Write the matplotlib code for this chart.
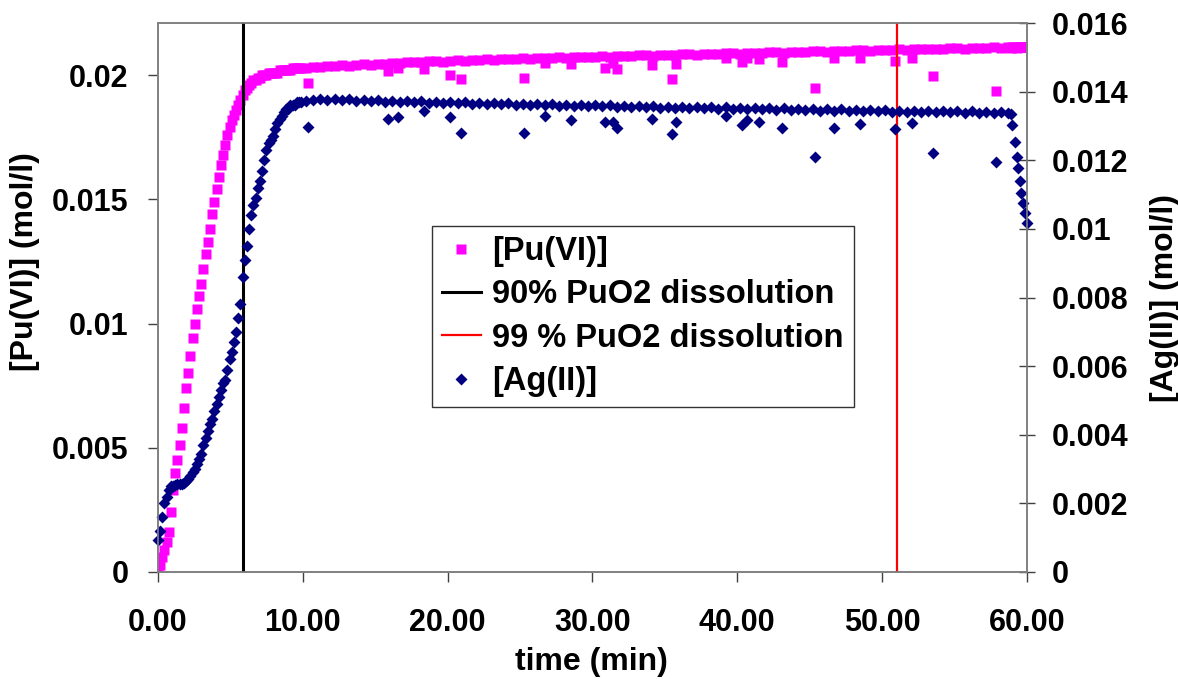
import numpy as np
import matplotlib
matplotlib.use("Agg")
import matplotlib.pyplot as plt
from matplotlib.lines import Line2D

plt.rcParams['font.family'] = ['Liberation Sans', 'DejaVu Sans']
plt.rcParams['font.weight'] = 'bold'
plt.rcParams['axes.labelweight'] = 'bold'

# --- data (time in min, concentrations in mol/l) ---
# fast rise at the start
rise_t = [0.0, 0.15, 0.3, 0.45, 0.6, 0.75, 0.9, 1.05, 1.2, 1.35, 1.5, 1.65, 1.8, 1.95,
          2.1, 2.25, 2.4, 2.55, 2.7, 2.85, 3.0, 3.15, 3.3, 3.45, 3.6, 3.75, 3.9, 4.05,
          4.2, 4.35, 4.5, 4.65, 4.8, 4.95, 5.1, 5.25, 5.4, 5.55, 5.7, 5.85, 6.0, 6.15,
          6.3, 6.45, 6.6, 6.75, 6.9, 7.05, 7.2, 7.35, 7.5, 7.65, 7.8, 7.95, 8.1, 8.25,
          8.4, 8.55, 8.7, 8.85, 9.0, 9.15, 9.3, 9.45, 9.6, 9.75, 9.9]
rise_pu = [0.00005, 0.0003, 0.0006, 0.0009, 0.0012, 0.0016, 0.0024, 0.0033, 0.0040, 0.0045,
           0.0051, 0.0058, 0.0066, 0.0074, 0.0080, 0.0087, 0.0094, 0.0100, 0.0106, 0.0111,
           0.0116, 0.0122, 0.0128, 0.0133, 0.0138, 0.0144, 0.0149, 0.0154, 0.0159, 0.0164,
           0.0168, 0.0172, 0.0176, 0.0179, 0.0182, 0.0184, 0.0186, 0.0188, 0.0190, 0.0192,
           0.0194, 0.0195, 0.0196, 0.0197, 0.0198, 0.0198, 0.0199, 0.0199, 0.0200, 0.0200,
           0.0200, 0.0201, 0.0201, 0.0201, 0.0201, 0.0201, 0.0202, 0.0202, 0.0202, 0.0202,
           0.0202, 0.0202, 0.0203, 0.0203, 0.0203, 0.0203, 0.0203]
rise_ag = [0.00093, 0.0012, 0.0016, 0.0020, 0.0022, 0.0024, 0.0025, 0.00252, 0.00254, 0.00255,
           0.00255, 0.00256, 0.00259, 0.00264, 0.0027, 0.0028, 0.0029, 0.0030, 0.00315, 0.0033,
           0.00345, 0.0037, 0.0039, 0.0041, 0.0043, 0.00445, 0.0047, 0.0049, 0.0051, 0.0053,
           0.0055, 0.0056, 0.0059, 0.0062, 0.0064, 0.0067, 0.0070, 0.0074, 0.0078, 0.0086,
           0.0091, 0.0095, 0.0100, 0.0104, 0.0107, 0.0109, 0.0112, 0.0114, 0.0117, 0.0120,
           0.0123, 0.0125, 0.0126, 0.0127, 0.0129, 0.0131, 0.0132, 0.0133, 0.0134, 0.0135,
           0.0135, 0.0136, 0.0136, 0.0136, 0.0137, 0.0137, 0.0137]

# plateau
plat_t = [10.2, 10.7, 11.2, 11.7, 12.2, 12.7, 13.2, 13.7, 14.2, 14.7, 15.2, 15.7, 16.2, 16.7,
          17.2, 17.7, 18.2, 18.7, 19.2, 19.7, 20.2, 20.7, 21.2, 21.7, 22.2, 22.7, 23.2, 23.7,
          24.2, 24.7, 25.2, 25.7, 26.2, 26.7, 27.2, 27.7, 28.2, 28.7, 29.2, 29.7, 30.2, 30.7,
          31.2, 31.7, 32.2, 32.7, 33.2, 33.7, 34.2, 34.7, 35.2, 35.7, 36.2, 36.7, 37.2, 37.7,
          38.2, 38.7, 39.2, 39.7, 40.2, 40.7, 41.2, 41.7, 42.2, 42.7, 43.2, 43.7, 44.2, 44.7,
          45.2, 45.7, 46.2, 46.7, 47.2, 47.7, 48.2, 48.7, 49.2, 49.7, 50.2, 50.7, 51.2, 51.7,
          52.2, 52.7, 53.2, 53.7, 54.2, 54.7, 55.2, 55.7, 56.2, 56.7, 57.2, 57.7, 58.2, 58.7]
plat_pu = [0.02030, 0.02033, 0.02031, 0.02036, 0.02037, 0.02040, 0.02038, 0.02042, 0.02044,
           0.02043, 0.02047, 0.02046, 0.02050, 0.02049, 0.02052, 0.02054, 0.02052, 0.02056,
           0.02057, 0.02055, 0.02059, 0.02060, 0.02058, 0.02062, 0.02061, 0.02064, 0.02063,
           0.02065, 0.02066, 0.02064, 0.02068, 0.02067, 0.02069, 0.02070, 0.02068, 0.02072,
           0.02071, 0.02073, 0.02074, 0.02072, 0.02075, 0.02077, 0.02075, 0.02078, 0.02079,
           0.02077, 0.02080, 0.02081, 0.02079, 0.02082, 0.02083, 0.02081, 0.02084, 0.02085,
           0.02083, 0.02086, 0.02087, 0.02085, 0.02088, 0.02089, 0.02087, 0.02090, 0.02091,
           0.02089, 0.02092, 0.02093, 0.02091, 0.02094, 0.02095, 0.02093, 0.02096, 0.02097,
           0.02095, 0.02098, 0.02099, 0.02097, 0.02100, 0.02101, 0.02099, 0.02102, 0.02103,
           0.02101, 0.02104, 0.02103, 0.02105, 0.02106, 0.02104, 0.02107, 0.02106, 0.02108,
           0.02109, 0.02107, 0.02110, 0.02109, 0.02111, 0.02112, 0.02110, 0.02113]
plat_ag = [0.01372, 0.01376, 0.01379, 0.01377, 0.01380, 0.01376, 0.01378, 0.01374, 0.01377,
           0.01373, 0.01375, 0.01371, 0.01374, 0.01370, 0.01373, 0.01369, 0.01372, 0.01368,
           0.01371, 0.01367, 0.01370, 0.01366, 0.01369, 0.01365, 0.01368, 0.01364, 0.01367,
           0.01363, 0.01366, 0.01362, 0.01365, 0.01361, 0.01364, 0.01360, 0.01363, 0.01359,
           0.01362, 0.01358, 0.01361, 0.01357, 0.01360, 0.01357, 0.01361, 0.01356, 0.01359,
           0.01355, 0.01358, 0.01354, 0.01357, 0.01353, 0.01356, 0.01352, 0.01355, 0.01352,
           0.01356, 0.01351, 0.01354, 0.01350, 0.01354, 0.01350, 0.01353, 0.01349, 0.01352,
           0.01348, 0.01352, 0.01347, 0.01351, 0.01347, 0.01350, 0.01346, 0.01349, 0.01345,
           0.01349, 0.01345, 0.01348, 0.01344, 0.01347, 0.01343, 0.01347, 0.01343, 0.01346,
           0.01342, 0.01345, 0.01342, 0.01345, 0.01341, 0.01344, 0.01340, 0.01344, 0.01340,
           0.01343, 0.01339, 0.01343, 0.01339, 0.01342, 0.01338, 0.01341, 0.01338]

# low readings scattered below the plateau
dip_t = [10.4, 15.9, 16.6, 18.4, 20.2, 20.9, 25.3, 26.7, 28.5, 30.9, 31.4, 31.7, 34.1, 35.5,
         35.8, 39.2, 40.3, 40.7, 41.5, 43.1, 45.4, 46.7, 48.5, 50.9, 52.1, 53.5, 57.9]
dip_pu = [0.01968, 0.02016, 0.02030, 0.02024, 0.02000, 0.01984, 0.01988, 0.02050, 0.02044,
          0.02028, 0.02050, 0.02024, 0.02040, 0.01984, 0.02044, 0.02070, 0.02052, 0.02070,
          0.02064, 0.02052, 0.01948, 0.02068, 0.02068, 0.02056, 0.02068, 0.01996, 0.01936]
dip_ag = [0.01297, 0.01320, 0.01326, 0.01345, 0.01326, 0.01280, 0.01280, 0.01329, 0.01317,
          0.01311, 0.01311, 0.01294, 0.01320, 0.01277, 0.01311, 0.01329, 0.01303, 0.01317,
          0.01311, 0.01294, 0.01210, 0.01294, 0.01306, 0.01291, 0.01309, 0.01221, 0.01195]

# drop of Ag(II) at the end
end_t = [58.9, 59.0, 59.15, 59.3, 59.4, 59.5, 59.6, 59.7, 59.85, 60.0]
end_pu = [0.02111, 0.02112, 0.02113, 0.02111, 0.02113, 0.02114, 0.02112, 0.02114, 0.02113, 0.02115]
end_ag = [0.01335, 0.01303, 0.01253, 0.01210, 0.01178, 0.01140, 0.01105, 0.01075, 0.01046, 0.01017]

t90 = 5.85   # 90% PuO2 dissolution
t99 = 51.0   # 99 % PuO2 dissolution

time = np.concatenate([rise_t, plat_t, dip_t, end_t])
pu = np.concatenate([rise_pu, plat_pu, dip_pu, end_pu])
ag = np.concatenate([rise_ag, plat_ag, dip_ag, end_ag])

fig = plt.figure(figsize=(11.78, 6.79), dpi=100)
ax1 = fig.add_axes([0.134, 0.1576, 0.7377, 0.8085])
ax2 = ax1.twinx()

ax1.plot(time, pu, 's', color='#FF00FF', ms=6.5, mec='none', zorder=2)
ax1.axvline(t90, color='black', lw=2.2, zorder=3)
ax1.axvline(t99, color='#FF0000', lw=1.6, zorder=3)
ax2.plot(time, ag, 'D', color='#000080', ms=6, mec='none', clip_on=False)

ax1.set_xlim(0, 60)
ax1.set_ylim(0, 0.0221)
ax2.set_ylim(0, 0.016)

fs = 22
ax1.set_xticks([0, 10, 20, 30, 40, 50, 60])
ax1.set_xticklabels(['0.00', '10.00', '20.00', '30.00', '40.00', '50.00', '60.00'], fontsize=fs)
ax1.set_yticks([0, 0.005, 0.01, 0.015, 0.02])
ax1.set_yticklabels(['0', '0.005', '0.01', '0.015', '0.02'], fontsize=fs)
ax2.set_yticks([0, 0.002, 0.004, 0.006, 0.008, 0.01, 0.012, 0.014, 0.016])
ax2.set_yticklabels(['0', '0.002', '0.004', '0.006', '0.008', '0.01', '0.012', '0.014', '0.016'],
                    fontsize=fs)

ax1.tick_params(axis='x', direction='out', length=7, width=1, pad=19, color='#404040')
ax1.tick_params(axis='y', direction='out', length=7, width=1, pad=14, color='#404040')
ax2.tick_params(axis='y', direction='inout', length=12, width=1, pad=12, color='#404040')

for a in (ax1, ax2):
    for s in a.spines.values():
        s.set_color('#808080')
        s.set_linewidth(1.2)

ax1.set_xlabel('time (min)', fontsize=23, fontweight='bold', va='center')
ax1.xaxis.set_label_coords(0.4995, -0.164)
ax1.set_ylabel('[Pu(VI)] (mol/l)', fontsize=23, fontweight='bold', va='center')
ax1.yaxis.set_label_coords(-0.153, 0.565)
ax2.set_ylabel('[Ag(II)] (mol/l)', fontsize=23, fontweight='bold', va='center')
ax2.yaxis.set_label_coords(1.159, 0.50)

handles = [
    Line2D([], [], ls='none', marker='s', color='#FF00FF', ms=6.5, mec='none'),
    Line2D([], [], color='black', lw=2.2),
    Line2D([], [], color='#FF0000', lw=1.6),
    Line2D([], [], ls='none', marker='D', color='#000080', ms=6, mec='none'),
]
labels = ['[Pu(VI)]', '90% PuO2 dissolution', '99 % PuO2 dissolution', '[Ag(II)]']
leg = ax2.legend(handles, labels, loc='upper left', bbox_to_anchor=(0.3153, 0.630),
                 fontsize=23.5, frameon=True, fancybox=False, shadow=False,
                 handlelength=1.2, handletextpad=0.35, labelspacing=0.38,
                 borderpad=0.3, borderaxespad=0)
leg.get_frame().set_edgecolor('black')
leg.get_frame().set_linewidth(1)

fig.savefig('out.png', dpi=100)
